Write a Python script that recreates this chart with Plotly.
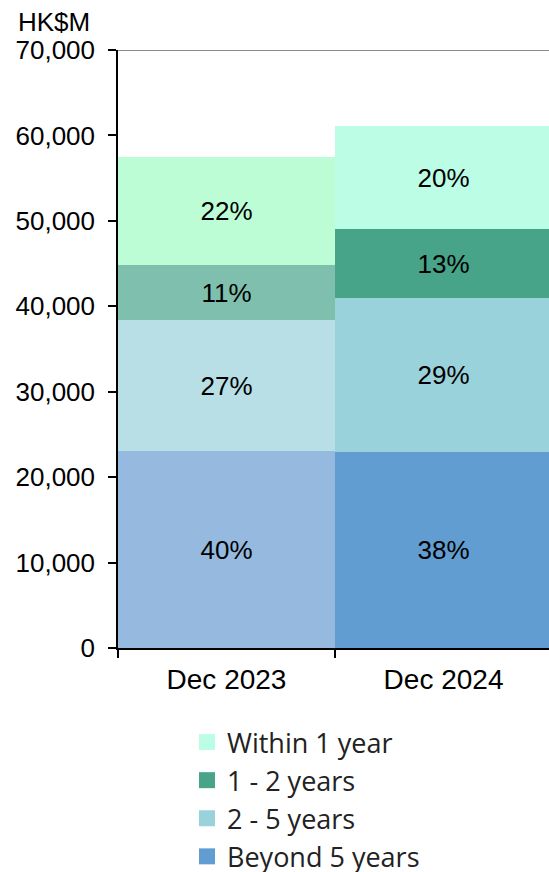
import plotly.graph_objects as go

# Maturity profile of borrowings, HK$M
periods = ["Dec 2023", "Dec 2024"]
series_names = ["Beyond 5 years", "2 - 5 years", "1 - 2 years", "Within 1 year"]
beyond_5_years = [23100, 22940]
two_to_5_years = [15300, 18000]
one_to_2_years = [6420, 8150]
within_1_year = [12600, 12070]
y_ticks = [0, 10000, 20000, 30000, 40000, 50000, 60000, 70000]

# each period is shaded in its own tone; the legend uses the latest period's tones
colors_2023 = ["#95B9DF", "#B8DFE6", "#7FBFAD", "#BDFDD6"]
colors_2024 = ["#629DD1", "#9AD2DC", "#47A489", "#BCFDE6"]

series_values = [beyond_5_years, two_to_5_years, one_to_2_years, within_1_year]
totals = [sum(v[i] for v in series_values) for i in range(len(periods))]

fig = go.Figure()
for k, (name, vals) in enumerate(zip(series_names, series_values)):
    pct = [f"{round(100 * v / t)}%" for v, t in zip(vals, totals)]
    fig.add_trace(go.Bar(
        x=periods, y=vals, name=name, showlegend=False,
        marker=dict(color=[colors_2023[k], colors_2024[k]], line=dict(width=0)),
        text=pct, textposition="inside", insidetextanchor="middle",
        textangle=0, constraintext="none",
        textfont=dict(family="Liberation Sans, Arial", size=26, color="black"),
        hoverinfo="skip",
    ))

# legend entries, top to bottom
for k in [3, 2, 1, 0]:
    fig.add_trace(go.Scatter(
        x=[None], y=[None], mode="markers", name=series_names[k],
        legendgroup=series_names[k],
        marker=dict(symbol="square", size=19, color=colors_2024[k]),
    ))

fig.add_shape(type="line", xref="paper", yref="y", x0=0, x1=1, y0=70000, y1=70000,
              line=dict(color="#8C8C8C", width=2))

fig.add_annotation(text="HK$M", xref="paper", yref="paper",
                   x=-64 / 431, y=1 + 28 / 598, xanchor="center", yanchor="middle",
                   showarrow=False, font=dict(family="Liberation Sans, Arial", size=26, color="black"))

fig.update_layout(
    width=549, height=872,
    margin=dict(l=118, r=0, t=50, b=224, autoexpand=False),
    barmode="stack", bargap=0,
    plot_bgcolor="white", paper_bgcolor="white",
    font=dict(family="Liberation Sans, Arial", color="black"),
    legend=dict(
        x=(197 - 118 - 10) / 431, xanchor="left",
        y=-(718 - 648) / 598, yanchor="top",
        traceorder="grouped", tracegroupgap=0,
        font=dict(family="Open Sans, Calibri, sans-serif", size=27, color="#222222"),
        bgcolor="rgba(0,0,0,0)",
    ),
    xaxis=dict(
        range=[-0.5, 1.486], type="category",
        showline=True, linecolor="black", linewidth=1.5,
        ticks="outside", ticklen=8, tickcolor="black", tickwidth=1.5,
        tickson="boundaries", ticklabelstandoff=6,
        tickfont=dict(family="Liberation Sans, Arial", size=28, color="black"),
        showgrid=False, fixedrange=True,
    ),
    yaxis=dict(
        range=[0, 70000], tickvals=y_ticks, tickformat=",d",
        showline=True, linecolor="black", linewidth=1.5,
        ticks="outside", ticklen=8, tickcolor="black", tickwidth=1.5,
        ticklabelstandoff=8,
        tickfont=dict(family="Liberation Sans, Arial", size=26, color="black"),
        showgrid=False, zeroline=False, fixedrange=True,
    ),
)

fig.write_html("out.html")
